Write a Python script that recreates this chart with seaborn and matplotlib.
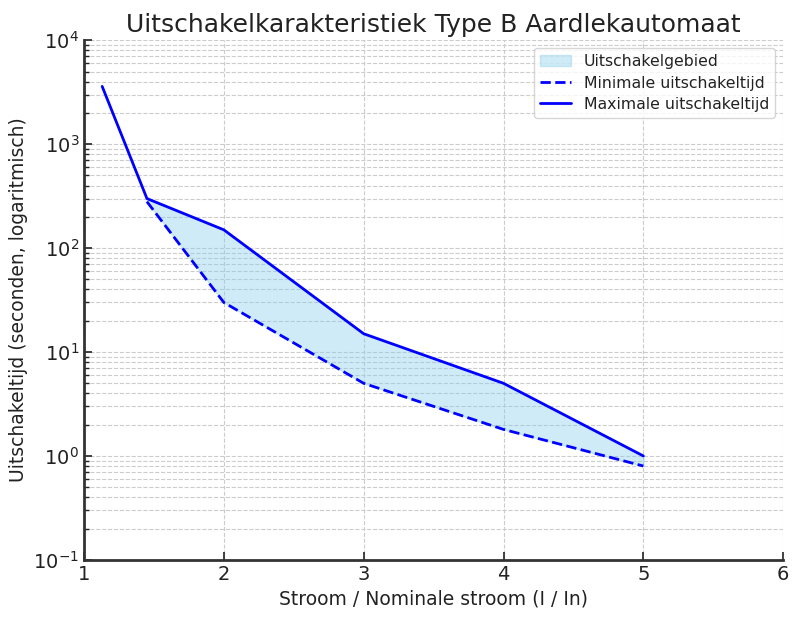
import matplotlib
matplotlib.use("Agg")
import matplotlib.pyplot as plt
import seaborn as sns
import pandas as pd

# Stroom als veelvoud van In
stroom_max = [1.13, 1.45, 2, 3, 4, 5]
tijd_max = [3600, 300, 150, 15, 5, 1.0]

stroom_min = [1.45, 2, 3, 4, 5]
tijd_min = [280, 30, 5, 1.8, 0.8]

x_ticks = [1, 2, 3, 4, 5, 6]


def main():
    sns.set_style("whitegrid", {
        "axes.edgecolor": "#333333",
        "grid.color": "#cccccc",
        "grid.linestyle": "--",
        "xtick.direction": "in",
        "ytick.direction": "in",
        "xtick.bottom": True,
        "ytick.left": True,
        "text.color": "#222222",
        "axes.labelcolor": "#222222",
        "xtick.color": "#222222",
        "ytick.color": "#222222",
    })
    plt.rcParams['font.family'] = ['DejaVu Sans']

    df_max = pd.DataFrame({"stroom": stroom_max, "tijd": tijd_max})
    df_min = pd.DataFrame({"stroom": stroom_min, "tijd": tijd_min})

    fig, ax = plt.subplots(figsize=(8, 6.2), dpi=100)
    fig.subplots_adjust(left=0.105, right=0.979, top=0.935, bottom=0.097)

    # gebied tussen min en max op de punten van de minimumcurve
    max_op_min = [tijd_max[stroom_max.index(s)] for s in stroom_min]
    ax.fill_between(stroom_min, tijd_min, max_op_min, color="skyblue",
                    alpha=0.4, label="Uitschakelgebied")

    sns.lineplot(data=df_min, x="stroom", y="tijd", ax=ax, color="blue",
                 linestyle="--", linewidth=2, label="Minimale uitschakeltijd")
    sns.lineplot(data=df_max, x="stroom", y="tijd", ax=ax, color="blue",
                 linewidth=2, label="Maximale uitschakeltijd")

    ax.set_yscale("log")
    ax.set_xlim(1, 6)
    ax.set_ylim(0.1, 1e4)
    ax.set_xticks(x_ticks)
    ax.grid(True, which="both", linestyle="--", color="#cccccc", linewidth=0.8)

    ax.tick_params(axis="both", which="major", labelsize=14, length=6,
                   width=1.2, direction="in")
    ax.tick_params(axis="y", which="minor", length=3.5, width=1, direction="in")

    for side in ["top", "right"]:
        ax.spines[side].set_visible(False)
    for side in ["left", "bottom"]:
        ax.spines[side].set_linewidth(2)
        ax.spines[side].set_color("#333333")

    ax.set_title("Uitschakelkarakteristiek Type B Aardlekautomaat", fontsize=18)
    ax.set_xlabel("Stroom / Nominale stroom (I / In)", fontsize=13.5)
    ax.set_ylabel("Uitschakeltijd (seconden, logaritmisch)", fontsize=13.5)

    ax.legend(loc="upper right", fontsize=11.3, frameon=True, labelspacing=0.4)

    fig.savefig("out.png", dpi=100)


if __name__ == "__main__":
    main()
